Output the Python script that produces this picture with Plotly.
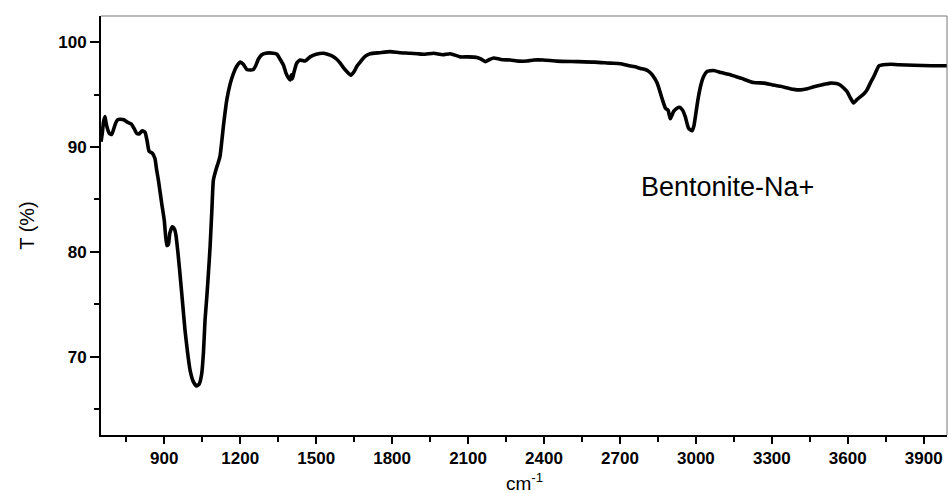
import plotly.graph_objects as go

# FTIR transmittance spectrum of Na-exchanged bentonite
wavenumber = [
    650, 655, 660, 666, 670, 675, 683, 692, 700, 708, 716, 725, 740, 752, 769, 780,
    791, 800, 813, 824, 832, 840, 853, 863, 870, 877, 890, 900, 910, 916, 922, 932,
    940, 946, 954, 962, 972, 982, 992, 1002, 1015, 1028, 1038, 1048, 1055, 1061,
    1068, 1075, 1081, 1088, 1094, 1105, 1113, 1120, 1135, 1147, 1160, 1173, 1186,
    1200, 1212, 1226, 1240, 1252, 1262, 1272, 1285, 1300, 1331, 1345, 1357, 1371,
    1380, 1390, 1397, 1402, 1406, 1412, 1423, 1437, 1456, 1476, 1500, 1529, 1545,
    1562, 1580, 1595, 1610, 1621, 1637, 1650, 1661, 1674, 1687, 1700, 1713, 1750,
    1792, 1830, 1871, 1900, 1930, 1964, 2000, 2030, 2069, 2100, 2135, 2150, 2168,
    2185, 2201, 2230, 2267, 2300, 2333, 2360, 2398, 2450, 2530, 2600, 2662, 2702,
    2728, 2760, 2781, 2800, 2815, 2827, 2847, 2866, 2880, 2890, 2899, 2905, 2912,
    2925, 2936, 2948, 2958, 2971, 2985, 2992, 2998, 3008, 3018, 3030, 3044, 3070,
    3100, 3136, 3180, 3228, 3268, 3300, 3334, 3387, 3413, 3440, 3466, 3500, 3532,
    3555, 3571, 3585, 3597, 3610, 3623, 3635, 3650, 3665, 3676, 3689, 3700, 3709,
    3723, 3740, 3769, 3800, 3861, 3930, 3992,
]
transmittance = [
    90.5, 91.3, 92.4, 92.9, 92.3, 91.8, 91.3, 91.2, 91.7, 92.3, 92.6, 92.65, 92.6, 92.4, 92.2, 91.8,
    91.3, 91.25, 91.55, 91.4, 90.6, 89.6, 89.4, 88.9, 87.8, 86.8, 84.6, 83.0, 80.6, 80.7, 81.8, 82.4,
    82.2, 81.6, 79.9, 77.9, 75.2, 72.5, 70.4, 68.7, 67.6, 67.2, 67.4, 68.4, 70.5, 73.5,
    75.7, 78.2, 80.5, 84.0, 86.85, 87.9, 88.5, 89.1, 92.3, 94.5, 96.0, 97.0, 97.7,
    98.1, 97.9, 97.4, 97.35, 97.4, 97.8, 98.4, 98.8, 98.95, 98.95, 98.85, 98.4, 97.8,
    97.1, 96.6, 96.4, 96.9, 96.5, 97.1, 98.0, 98.3, 98.2, 98.6, 98.85, 98.95, 98.85,
    98.7, 98.4, 98.0, 97.5, 97.2, 96.85, 97.2, 97.7, 98.1, 98.5, 98.75, 98.9, 99.0,
    99.1, 99.0, 98.95, 98.9, 98.85, 98.95, 98.8, 98.9, 98.6, 98.6, 98.55, 98.4, 98.15,
    98.35, 98.5, 98.35, 98.3, 98.2, 98.2, 98.3, 98.3, 98.2, 98.15, 98.1, 98.0, 97.95,
    97.8, 97.65, 97.5, 97.4, 97.2, 96.9, 96.1, 94.65, 93.7, 93.5, 92.7, 93.0, 93.4,
    93.7, 93.8, 93.5, 92.9, 91.8, 91.55, 92.0, 92.9, 94.5, 95.75, 96.7, 97.2, 97.3,
    97.1, 96.9, 96.55, 96.15, 96.1, 95.95, 95.8, 95.5, 95.45, 95.55, 95.75, 95.95, 96.1,
    96.05, 95.9, 95.6, 95.3, 94.7, 94.2, 94.5, 94.8, 95.1, 95.45, 96.1, 96.6, 97.05,
    97.75, 97.85, 97.9, 97.85, 97.8, 97.75, 97.75,
]

x_ticks = [900, 1200, 1500, 1800, 2100, 2400, 2700, 3000, 3300, 3600, 3900]
y_ticks = [70, 80, 90, 100]
sample_label = "Bentonite-Na+"
x_title = "cm<sup>-1</sup>"
y_title = "T (%)"

font_family = "Arial, Liberation Sans, sans-serif"

fig = go.Figure()
fig.add_trace(go.Scatter(
    x=wavenumber, y=transmittance, mode="lines",
    line=dict(color="black", width=3.6, shape="spline", smoothing=0.5),
    showlegend=False, hoverinfo="skip",
))

fig.add_annotation(
    x=3123, y=86.2, text=sample_label, showarrow=False,
    font=dict(family=font_family, size=27, color="black"),
    xanchor="center", yanchor="middle",
)

# x-axis title placed just under the tick labels
fig.add_annotation(
    xref="paper", yref="paper", x=0.5, y=-0.143, text=x_title, showarrow=False,
    font=dict(family=font_family, size=19, color="black"),
    xanchor="center", yanchor="bottom", borderpad=0,
)

# thin grey frame on the top and right edges
fig.add_shape(type="line", xref="paper", yref="paper", x0=0, x1=1, y0=1, y1=1,
              line=dict(color="#777777", width=1))
fig.add_shape(type="line", xref="paper", yref="paper", x0=1, x1=1, y0=0, y1=1,
              line=dict(color="#777777", width=1))

fig.update_xaxes(
    range=[650, 3992], tickvals=x_ticks, ticks="outside", ticklen=7, tickwidth=2,
    tickcolor="black", showline=True, linecolor="black", linewidth=2,
    showgrid=False, zeroline=False, automargin=False,
    tickfont=dict(family=font_family, size=17, color="black", weight="bold"),
    minor=dict(dtick=150, tick0=750, ticks="outside", ticklen=5, tickwidth=2, tickcolor="black"),
)
fig.update_yaxes(
    range=[62.53, 102.5], tickvals=y_ticks, ticks="outside", ticklen=9, tickwidth=2,
    tickcolor="black", showline=True, linecolor="black", linewidth=2,
    showgrid=False, zeroline=False, automargin=False,
    tickfont=dict(family=font_family, size=17, color="black", weight="bold"),
    minor=dict(dtick=5, tick0=65, ticks="outside", ticklen=5, tickwidth=2, tickcolor="black"),
    title=dict(text=y_title, standoff=18,
               font=dict(family=font_family, size=20, color="black")),
)

fig.update_layout(
    width=949, height=493,
    margin=dict(l=101, r=2, t=16, b=58),
    plot_bgcolor="white", paper_bgcolor="white",
)

fig.write_html("out.html")
